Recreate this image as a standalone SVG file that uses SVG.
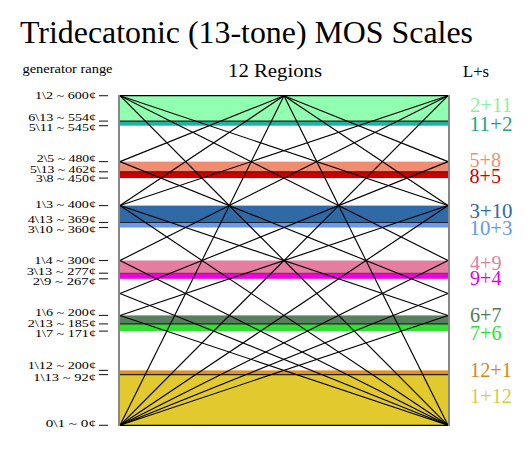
<svg xmlns="http://www.w3.org/2000/svg" width="530" height="450" viewBox="0 0 530 450">
<style>
text{font-family:"Liberation Serif","Times New Roman",serif;}
.lbl{font-size:11px;text-anchor:end;fill:#000;}
.r{font-size:20px;}
.tick{stroke:#222;stroke-width:1.1;}
.edo{stroke:#222;stroke-width:1.1;}
#connectors line{stroke:#000;stroke-width:1.15;}
</style>
<rect width="530" height="450" fill="#fff"/>
<text x="20" y="43.3" font-size="31" textLength="453" lengthAdjust="spacingAndGlyphs">Tridecatonic (13-tone) MOS Scales</text>
<text x="22.5" y="72.5" font-size="12" textLength="90" lengthAdjust="spacingAndGlyphs">generator range</text>
<text x="228" y="77" font-size="18" textLength="94" lengthAdjust="spacingAndGlyphs">12 Regions</text>
<text x="463" y="77" font-size="17" textLength="26" lengthAdjust="spacingAndGlyphs">L+s</text>

<g id="region-2-11"><rect x="120" y="95.7" width="328" height="25.4" fill="#90ffb0"/><text class="r" x="470" y="111.7" fill="#8ef0a0" textLength="42" lengthAdjust="spacingAndGlyphs">2+11</text></g>
<g id="region-11-2"><rect x="120" y="121.1" width="328" height="4.6" fill="#20b4a0"/><text class="r" x="469.5" y="130.7" fill="#1fa585" textLength="43" lengthAdjust="spacingAndGlyphs">11+2</text></g>
<g id="region-5-8"><rect x="120" y="161.6" width="328" height="10.2" fill="#f08c70"/><text class="r" x="469.5" y="167.3" fill="#f09070" textLength="31.5" lengthAdjust="spacingAndGlyphs">5+8</text></g>
<g id="region-8-5"><rect x="120" y="171.8" width="328" height="6.3" fill="#cc0000"/><text class="r" x="469.5" y="182.7" fill="#cc0000" textLength="31.5" lengthAdjust="spacingAndGlyphs">8+5</text></g>
<g id="region-3-10"><rect x="120" y="205.6" width="328" height="16.9" fill="#2f6aa6"/><text class="r" x="469.5" y="218.3" fill="#3068a8" textLength="43" lengthAdjust="spacingAndGlyphs">3+10</text></g>
<g id="region-10-3"><rect x="120" y="222.5" width="328" height="5" fill="#6898f0"/><text class="r" x="469.5" y="235" fill="#6898e8" textLength="43" lengthAdjust="spacingAndGlyphs">10+3</text></g>
<g id="region-4-9"><rect x="120" y="260.5" width="328" height="12.7" fill="#e47ea0"/><text class="r" x="470" y="270" fill="#e080a0" textLength="31.5" lengthAdjust="spacingAndGlyphs">4+9</text></g>
<g id="region-9-4"><rect x="120" y="273.2" width="328" height="5.6" fill="#f000e0"/><text class="r" x="470" y="285" fill="#e000d8" textLength="31.5" lengthAdjust="spacingAndGlyphs">9+4</text></g>
<g id="region-6-7"><rect x="120" y="315.4" width="328" height="8.5" fill="#588060"/><text class="r" x="470" y="321.7" fill="#507a58" textLength="31.5" lengthAdjust="spacingAndGlyphs">6+7</text></g>
<g id="region-7-6"><rect x="120" y="323.9" width="328" height="7.2" fill="#33e033"/><text class="r" x="470" y="340" fill="#30e030" textLength="31.5" lengthAdjust="spacingAndGlyphs">7+6</text></g>
<g id="region-12-1"><rect x="120" y="370.4" width="328" height="4.2" fill="#e0901c"/><text class="r" x="470" y="376.7" fill="#d08a18" textLength="42" lengthAdjust="spacingAndGlyphs">12+1</text></g>
<g id="region-1-12"><rect x="120" y="374.6" width="328" height="50.7" fill="#e2ca2e"/><text class="r" x="470" y="403.3" fill="#d4d040" textLength="42" lengthAdjust="spacingAndGlyphs">1+12</text></g>

<g id="edo-lines">
<line class="edo" x1="120" y1="121.1" x2="448" y2="121.1"/>
<line class="edo" x1="120" y1="171.8" x2="448" y2="171.8"/>
<line class="edo" x1="120" y1="222.5" x2="448" y2="222.5"/>
<line class="edo" x1="120" y1="273.2" x2="448" y2="273.2" stroke-opacity="0.6"/>
<line class="edo" x1="120" y1="323.9" x2="448" y2="323.9"/>
<line class="edo" x1="120" y1="374.6" x2="448" y2="374.6"/>
</g>

<g id="connectors">
<line x1="120" y1="425.3" x2="284" y2="95.7"/>
<line x1="120" y1="425.3" x2="448" y2="95.7"/>
<line x1="120" y1="425.3" x2="448" y2="205.57"/>
<line x1="120" y1="205.57" x2="284" y2="95.7"/>
<line x1="120" y1="425.3" x2="448" y2="260.5"/>
<line x1="120" y1="260.5" x2="448" y2="95.7"/>
<line x1="120" y1="425.3" x2="448" y2="293.46"/>
<line x1="120" y1="293.46" x2="448" y2="161.62"/>
<line x1="120" y1="161.62" x2="284" y2="95.7"/>
<line x1="120" y1="425.3" x2="448" y2="315.43"/>
<line x1="120" y1="315.43" x2="448" y2="205.57"/>
<line x1="120" y1="205.57" x2="448" y2="95.7"/>
<line x1="448" y1="425.3" x2="284" y2="95.7"/>
<line x1="448" y1="425.3" x2="120" y2="95.7"/>
<line x1="448" y1="425.3" x2="120" y2="205.57"/>
<line x1="448" y1="205.57" x2="284" y2="95.7"/>
<line x1="448" y1="425.3" x2="120" y2="260.5"/>
<line x1="448" y1="260.5" x2="120" y2="95.7"/>
<line x1="448" y1="425.3" x2="120" y2="293.46"/>
<line x1="448" y1="293.46" x2="120" y2="161.62"/>
<line x1="448" y1="161.62" x2="284" y2="95.7"/>
<line x1="448" y1="425.3" x2="120" y2="315.43"/>
<line x1="448" y1="315.43" x2="120" y2="205.57"/>
<line x1="448" y1="205.57" x2="120" y2="95.7"/>
</g>

<g id="frame">
<line x1="119" y1="95.7" x2="449" y2="95.7" stroke="#000" stroke-width="1.3"/>
<line x1="119" y1="425.3" x2="449" y2="425.3" stroke="#000" stroke-width="1.3"/>
<line x1="119" y1="95" x2="119" y2="426" stroke="#888" stroke-width="2"/>
<line x1="449" y1="95" x2="449" y2="426" stroke="#888" stroke-width="2"/>
</g>

<g id="generator-axis">
<line class="tick" x1="99" y1="95.7" x2="108" y2="95.7"/>
<line class="tick" x1="99" y1="121.1" x2="108" y2="121.1"/>
<line class="tick" x1="99" y1="125.7" x2="108" y2="125.7"/>
<line class="tick" x1="99" y1="161.6" x2="108" y2="161.6"/>
<line class="tick" x1="99" y1="171.8" x2="108" y2="171.8"/>
<line class="tick" x1="99" y1="178.1" x2="108" y2="178.1"/>
<line class="tick" x1="99" y1="205.6" x2="108" y2="205.6"/>
<line class="tick" x1="99" y1="222.5" x2="108" y2="222.5"/>
<line class="tick" x1="99" y1="227.5" x2="108" y2="227.5"/>
<line class="tick" x1="99" y1="260.5" x2="108" y2="260.5"/>
<line class="tick" x1="99" y1="273.2" x2="108" y2="273.2"/>
<line class="tick" x1="99" y1="278.8" x2="108" y2="278.8"/>
<line class="tick" x1="99" y1="315.4" x2="108" y2="315.4"/>
<line class="tick" x1="99" y1="323.9" x2="108" y2="323.9"/>
<line class="tick" x1="99" y1="331.1" x2="108" y2="331.1"/>
<line class="tick" x1="99" y1="370.4" x2="108" y2="370.4"/>
<line class="tick" x1="99" y1="374.6" x2="108" y2="374.6"/>
<line class="tick" x1="99" y1="425.3" x2="108" y2="425.3"/>
<text class="lbl" x="96" y="99" textLength="61" lengthAdjust="spacingAndGlyphs">1\2 ~ 600¢</text>
<text class="lbl" x="96" y="121" textLength="67.7" lengthAdjust="spacingAndGlyphs">6\13 ~ 554¢</text>
<text class="lbl" x="96" y="131" textLength="67.3" lengthAdjust="spacingAndGlyphs">5\11 ~ 545¢</text>
<text class="lbl" x="96" y="161.7" textLength="59.3" lengthAdjust="spacingAndGlyphs">2\5 ~ 480¢</text>
<text class="lbl" x="96" y="172.5" textLength="66" lengthAdjust="spacingAndGlyphs">5\13 ~ 462¢</text>
<text class="lbl" x="96" y="181.5" textLength="60.3" lengthAdjust="spacingAndGlyphs">3\8 ~ 450¢</text>
<text class="lbl" x="96" y="208" textLength="61" lengthAdjust="spacingAndGlyphs">1\3 ~ 400¢</text>
<text class="lbl" x="96" y="223" textLength="68.3" lengthAdjust="spacingAndGlyphs">4\13 ~ 369¢</text>
<text class="lbl" x="96" y="233" textLength="68.3" lengthAdjust="spacingAndGlyphs">3\10 ~ 360¢</text>
<text class="lbl" x="96" y="264" textLength="61.7" lengthAdjust="spacingAndGlyphs">1\4 ~ 300¢</text>
<text class="lbl" x="96" y="275" textLength="69.3" lengthAdjust="spacingAndGlyphs">3\13 ~ 277¢</text>
<text class="lbl" x="96" y="285" textLength="63.3" lengthAdjust="spacingAndGlyphs">2\9 ~ 267¢</text>
<text class="lbl" x="96" y="315.7" textLength="61" lengthAdjust="spacingAndGlyphs">1\6 ~ 200¢</text>
<text class="lbl" x="96" y="327" textLength="68.3" lengthAdjust="spacingAndGlyphs">2\13 ~ 185¢</text>
<text class="lbl" x="96" y="337" textLength="61" lengthAdjust="spacingAndGlyphs">1\7 ~ 171¢</text>
<text class="lbl" x="96" y="369" textLength="68.3" lengthAdjust="spacingAndGlyphs">1\12 ~ 200¢</text>
<text class="lbl" x="96" y="380.5" textLength="62.7" lengthAdjust="spacingAndGlyphs">1\13 ~ 92¢</text>
<text class="lbl" x="96" y="427" textLength="50.3" lengthAdjust="spacingAndGlyphs">0\1 ~ 0¢</text>
</g>
</svg>
